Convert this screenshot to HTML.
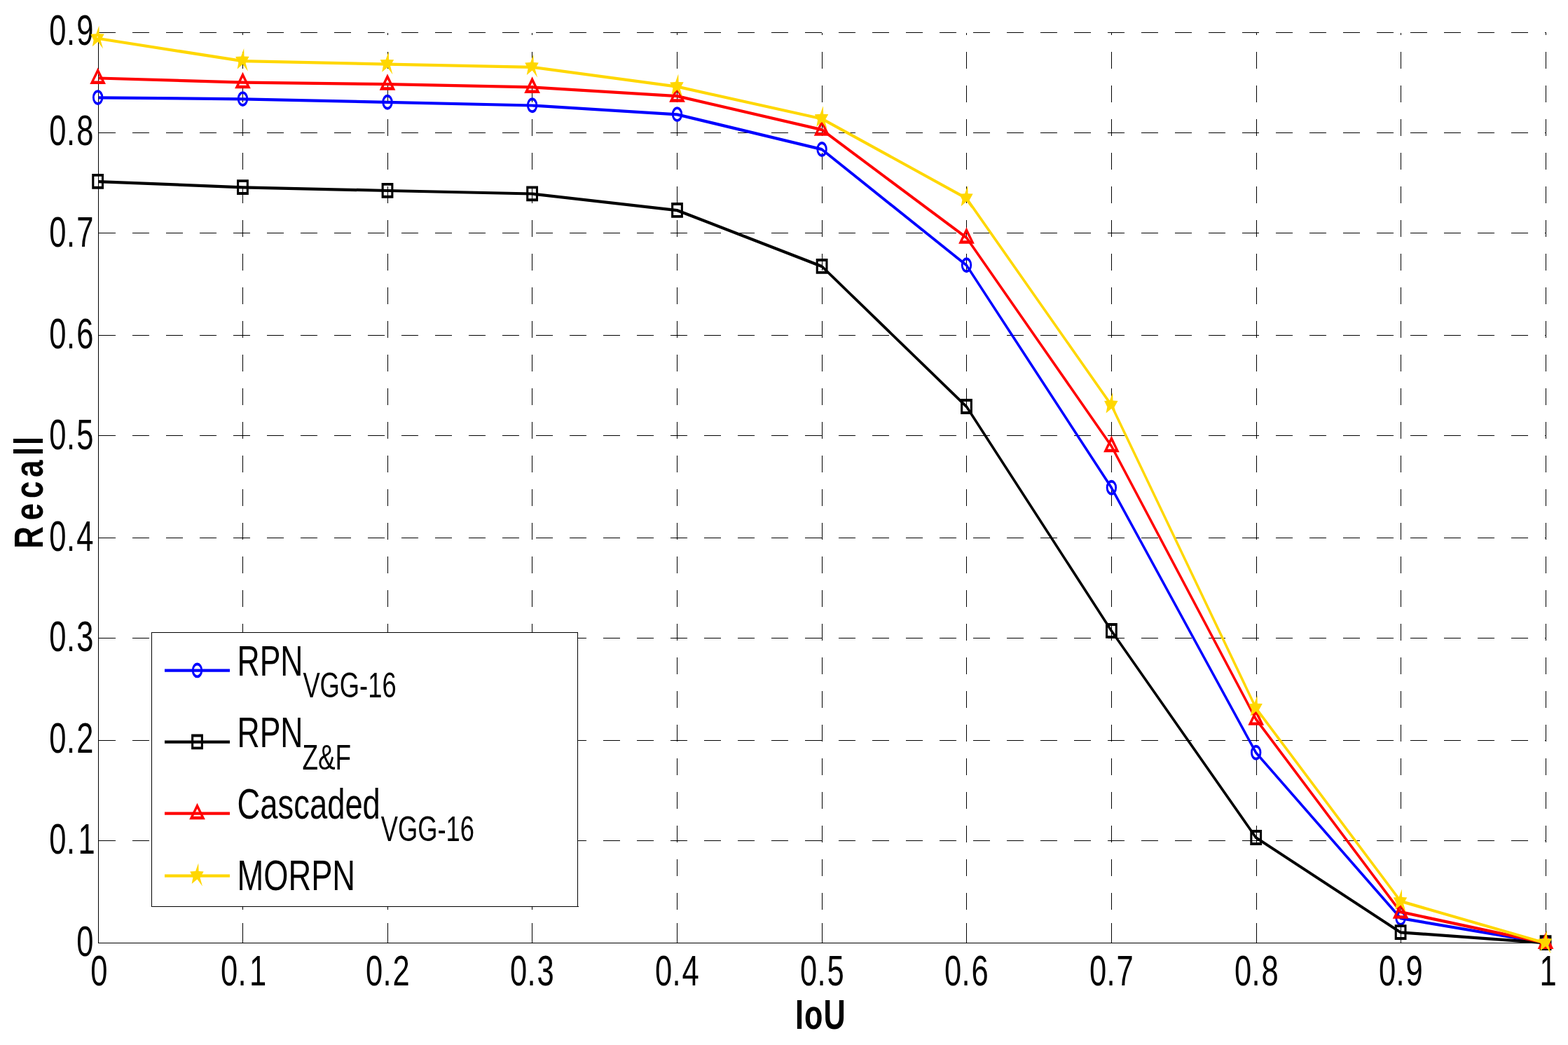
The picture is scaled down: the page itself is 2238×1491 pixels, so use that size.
<!DOCTYPE html>
<html lang="en"><head><meta charset="utf-8"><title>Recall vs IoU</title>
<style>html,body{margin:0;padding:0;background:#fff;overflow:hidden}svg{display:block}text{font-family:"Liberation Sans",Arial,Helvetica,sans-serif;fill:#000}</style></head><body>
<svg width="2238" height="1491" viewBox="0 0 2238 1491">
<rect width="2238" height="1491" fill="#fff"/>
<g stroke="#000" stroke-width="1" fill="none" shape-rendering="crispEdges">
<g stroke-dasharray="24 24">
<path d="M140.5 1199.5H2206.5"/>
<path d="M140.5 1056.5H2206.5"/>
<path d="M140.5 910.5H2206.5"/>
<path d="M140.5 767.5H2206.5"/>
<path d="M140.5 621.5H2206.5"/>
<path d="M140.5 478.5H2206.5"/>
<path d="M140.5 332.5H2206.5"/>
<path d="M140.5 189.5H2206.5"/>
<path d="M140.5 46.5H2206.5"/>
<path d="M346.5 1345.5V46.5"/>
<path d="M553.5 1345.5V46.5"/>
<path d="M759.5 1345.5V46.5"/>
<path d="M966.5 1345.5V46.5"/>
<path d="M1173.5 1345.5V46.5"/>
<path d="M1379.5 1345.5V46.5"/>
<path d="M1586.5 1345.5V46.5"/>
<path d="M1793.5 1345.5V46.5"/>
<path d="M1999.5 1345.5V46.5"/>
<path d="M2206.5 1345.5V46.5"/>
</g>
<path d="M140.5 46.5V1346"/>
<path d="M140 1345.5H2207"/>
<path d="M346.5 1345.5V1317"/>
<path d="M553.5 1345.5V1317"/>
<path d="M759.5 1345.5V1317"/>
<path d="M966.5 1345.5V1317"/>
<path d="M1173.5 1345.5V1317"/>
<path d="M1379.5 1345.5V1317"/>
<path d="M1586.5 1345.5V1317"/>
<path d="M1793.5 1345.5V1317"/>
<path d="M1999.5 1345.5V1317"/>
<path d="M2206.5 1345.5V1317"/>
</g>
<text transform="translate(109.2,1363.6) scale(0.722,1)" font-size="60.3" x="0">0</text>
<text transform="translate(70.15,1218.2) scale(0.722,1)" font-size="60.3" x="0 34.35 57.34">0.1</text>
<text transform="translate(70.15,1074.2) scale(0.722,1)" font-size="60.3" x="0 34.35 54.02">0.2</text>
<text transform="translate(70.15,929.4) scale(0.722,1)" font-size="60.3" x="0 34.35 54.02">0.3</text>
<text transform="translate(70.15,785.8) scale(0.722,1)" font-size="60.3" x="0 34.35 54.02">0.4</text>
<text transform="translate(70.15,640.5) scale(0.722,1)" font-size="60.3" x="0 34.35 54.02">0.5</text>
<text transform="translate(70.15,496.5) scale(0.722,1)" font-size="60.3" x="0 34.35 54.02">0.6</text>
<text transform="translate(70.15,351.5) scale(0.722,1)" font-size="60.3" x="0 34.35 54.02">0.7</text>
<text transform="translate(70.15,207.4) scale(0.722,1)" font-size="60.3" x="0 34.35 54.02">0.8</text>
<text transform="translate(70.15,64) scale(0.722,1)" font-size="60.3" x="0 34.35 54.02">0.9</text>
<text transform="translate(129.3,1405.8) scale(0.722,1)" font-size="60.3" x="0">0</text>
<text transform="translate(315.1,1405.8) scale(0.722,1)" font-size="60.3" x="0 33.93 56.51">0.1</text>
<text transform="translate(522.1,1405.8) scale(0.722,1)" font-size="60.3" x="0 33.93 53.19">0.2</text>
<text transform="translate(728.1,1405.8) scale(0.722,1)" font-size="60.3" x="0 33.93 53.19">0.3</text>
<text transform="translate(935.1,1405.8) scale(0.722,1)" font-size="60.3" x="0 33.93 53.19">0.4</text>
<text transform="translate(1142.1,1405.8) scale(0.722,1)" font-size="60.3" x="0 33.93 53.19">0.5</text>
<text transform="translate(1348.1,1405.8) scale(0.722,1)" font-size="60.3" x="0 33.93 53.19">0.6</text>
<text transform="translate(1555.1,1405.8) scale(0.722,1)" font-size="60.3" x="0 33.93 53.19">0.7</text>
<text transform="translate(1762.1,1405.8) scale(0.722,1)" font-size="60.3" x="0 33.93 53.19">0.8</text>
<text transform="translate(1968.1,1405.8) scale(0.722,1)" font-size="60.3" x="0 33.93 53.19">0.9</text>
<text transform="translate(2197.42,1405.8) scale(0.722,1)" font-size="60.3" x="0">1</text>
<g transform="scale(0.77,1)"><polyline points="182.47,139.3 449.94,141.3 718.18,145.9 986.49,150.5 1255.19,163.3 1523.51,213.2 1791.56,378.5 2060.26,695.9 2328.18,1074 2596.23,1310.2 2865.58,1345.5" fill="none" stroke="#0000ff" stroke-width="4.25" stroke-linejoin="round" stroke-linecap="butt"/></g>
<path fill="#0000ff" fill-rule="evenodd" d="M131.95 139.1a7.7 10.95 0 1 0 15.4 0a7.7 10.95 0 1 0 -15.4 0z M134.8 139.1a4.85 7 0 1 0 9.7 0a4.85 7 0 1 0 -9.7 0z"/>
<path fill="#0000ff" fill-rule="evenodd" d="M338.75 141.1a7.7 10.95 0 1 0 15.4 0a7.7 10.95 0 1 0 -15.4 0z M341.6 141.1a4.85 7 0 1 0 9.7 0a4.85 7 0 1 0 -9.7 0z"/>
<path fill="#0000ff" fill-rule="evenodd" d="M545.3 145.7a7.7 10.95 0 1 0 15.4 0a7.7 10.95 0 1 0 -15.4 0z M548.15 145.7a4.85 7 0 1 0 9.7 0a4.85 7 0 1 0 -9.7 0z"/>
<path fill="#0000ff" fill-rule="evenodd" d="M751.9 150.3a7.7 10.95 0 1 0 15.4 0a7.7 10.95 0 1 0 -15.4 0z M754.75 150.3a4.85 7 0 1 0 9.7 0a4.85 7 0 1 0 -9.7 0z"/>
<path fill="#0000ff" fill-rule="evenodd" d="M958.8 163.1a7.7 10.95 0 1 0 15.4 0a7.7 10.95 0 1 0 -15.4 0z M961.65 163.1a4.85 7 0 1 0 9.7 0a4.85 7 0 1 0 -9.7 0z"/>
<path fill="#0000ff" fill-rule="evenodd" d="M1165.4 213a7.7 10.95 0 1 0 15.4 0a7.7 10.95 0 1 0 -15.4 0z M1168.25 213a4.85 7 0 1 0 9.7 0a4.85 7 0 1 0 -9.7 0z"/>
<path fill="#0000ff" fill-rule="evenodd" d="M1371.8 378.3a7.7 10.95 0 1 0 15.4 0a7.7 10.95 0 1 0 -15.4 0z M1374.65 378.3a4.85 7 0 1 0 9.7 0a4.85 7 0 1 0 -9.7 0z"/>
<path fill="#0000ff" fill-rule="evenodd" d="M1578.7 695.7a7.7 10.95 0 1 0 15.4 0a7.7 10.95 0 1 0 -15.4 0z M1581.55 695.7a4.85 7 0 1 0 9.7 0a4.85 7 0 1 0 -9.7 0z"/>
<path fill="#0000ff" fill-rule="evenodd" d="M1785 1073.8a7.7 10.95 0 1 0 15.4 0a7.7 10.95 0 1 0 -15.4 0z M1787.85 1073.8a4.85 7 0 1 0 9.7 0a4.85 7 0 1 0 -9.7 0z"/>
<path fill="#0000ff" fill-rule="evenodd" d="M1991.4 1310a7.7 10.95 0 1 0 15.4 0a7.7 10.95 0 1 0 -15.4 0z M1994.25 1310a4.85 7 0 1 0 9.7 0a4.85 7 0 1 0 -9.7 0z"/>
<path fill="#0000ff" fill-rule="evenodd" d="M2198.35 1345.3a7.7 10.95 0 1 0 15.4 0a7.7 10.95 0 1 0 -15.4 0z M2201.2 1345.3a4.85 7 0 1 0 9.7 0a4.85 7 0 1 0 -9.7 0z"/>
<g transform="scale(0.77,1)"><polyline points="182.47,259.05 449.94,267.3 718.18,272 986.49,276.5 1255.19,300.1 1523.51,380.1 1791.56,580.2 2060.26,900.1 2328.18,1195.2 2596.23,1330.3 2865.58,1345.3" fill="none" stroke="#000000" stroke-width="4.25" stroke-linejoin="round" stroke-linecap="butt"/></g>
<path fill="#000000" fill-rule="evenodd" d="M131.25 247.95h16.8v21.8h-16.8z M134.35 251.85h10.6v14h-10.6z"/>
<path fill="#000000" fill-rule="evenodd" d="M338.05 256.2h16.8v21.8h-16.8z M341.15 260.1h10.6v14h-10.6z"/>
<path fill="#000000" fill-rule="evenodd" d="M544.6 260.9h16.8v21.8h-16.8z M547.7 264.8h10.6v14h-10.6z"/>
<path fill="#000000" fill-rule="evenodd" d="M751.2 265.4h16.8v21.8h-16.8z M754.3 269.3h10.6v14h-10.6z"/>
<path fill="#000000" fill-rule="evenodd" d="M958.1 289h16.8v21.8h-16.8z M961.2 292.9h10.6v14h-10.6z"/>
<path fill="#000000" fill-rule="evenodd" d="M1164.7 369h16.8v21.8h-16.8z M1167.8 372.9h10.6v14h-10.6z"/>
<path fill="#000000" fill-rule="evenodd" d="M1371.1 569.1h16.8v21.8h-16.8z M1374.2 573h10.6v14h-10.6z"/>
<path fill="#000000" fill-rule="evenodd" d="M1578 889h16.8v21.8h-16.8z M1581.1 892.9h10.6v14h-10.6z"/>
<path fill="#000000" fill-rule="evenodd" d="M1784.3 1184.1h16.8v21.8h-16.8z M1787.4 1188h10.6v14h-10.6z"/>
<path fill="#000000" fill-rule="evenodd" d="M1990.7 1319.2h16.8v21.8h-16.8z M1993.8 1323.1h10.6v14h-10.6z"/>
<path fill="#000000" fill-rule="evenodd" d="M2197.65 1334.2h16.8v21.8h-16.8z M2200.75 1338.1h10.6v14h-10.6z"/>
<g transform="scale(0.77,1)"><polyline points="182.47,111.5 449.94,117.7 718.18,120.2 986.49,124.4 1255.19,137.2 1523.51,185.2 1791.56,339.2 2060.26,636.6 2328.18,1026.3 2596.23,1301.2 2865.58,1345.5" fill="none" stroke="#ff0000" stroke-width="4.25" stroke-linejoin="round" stroke-linecap="butt"/></g>
<path fill="#ff0000" fill-rule="evenodd" d="M139.65 96.45 L151 120.06 L128.3 120.06z M139.65 104.6 L145.15 115.6 L134.15 115.6z"/>
<path fill="#ff0000" fill-rule="evenodd" d="M346.45 102.65 L357.8 126.26 L335.1 126.26z M346.45 110.8 L351.95 121.8 L340.95 121.8z"/>
<path fill="#ff0000" fill-rule="evenodd" d="M553 105.15 L564.35 128.76 L541.65 128.76z M553 113.3 L558.5 124.3 L547.5 124.3z"/>
<path fill="#ff0000" fill-rule="evenodd" d="M759.6 109.35 L770.95 132.96 L748.25 132.96z M759.6 117.5 L765.1 128.5 L754.1 128.5z"/>
<path fill="#ff0000" fill-rule="evenodd" d="M966.5 122.15 L977.85 145.76 L955.15 145.76z M966.5 130.3 L972 141.3 L961 141.3z"/>
<path fill="#ff0000" fill-rule="evenodd" d="M1173.1 170.15 L1184.45 193.76 L1161.75 193.76z M1173.1 178.3 L1178.6 189.3 L1167.6 189.3z"/>
<path fill="#ff0000" fill-rule="evenodd" d="M1379.5 324.15 L1390.85 347.76 L1368.15 347.76z M1379.5 332.3 L1385 343.3 L1374 343.3z"/>
<path fill="#ff0000" fill-rule="evenodd" d="M1586.4 621.55 L1597.75 645.16 L1575.05 645.16z M1586.4 629.7 L1591.9 640.7 L1580.9 640.7z"/>
<path fill="#ff0000" fill-rule="evenodd" d="M1792.7 1011.25 L1804.05 1034.86 L1781.35 1034.86z M1792.7 1019.4 L1798.2 1030.4 L1787.2 1030.4z"/>
<path fill="#ff0000" fill-rule="evenodd" d="M1999.1 1287.05 L2010.45 1310.66 L1987.75 1310.66z M1999.1 1295.2 L2004.6 1306.2 L1993.6 1306.2z"/>
<path fill="#ff0000" fill-rule="evenodd" d="M2206.05 1330.45 L2217.4 1354.06 L2194.7 1354.06z M2206.05 1338.6 L2211.55 1349.6 L2200.55 1349.6z"/>
<g transform="scale(0.77,1)"><polyline points="182.47,55 449.94,87.2 718.18,91.6 986.49,95.8 1255.19,123.7 1523.51,169.5 1791.56,283 2060.26,578.3 2328.18,1010.5 2596.23,1285.9 2865.58,1345.7" fill="none" stroke="#ffd700" stroke-width="4.25" stroke-linejoin="round" stroke-linecap="butt"/></g>
<path fill="#ffd700" fill-rule="evenodd" d="M141.35 36.8 L141.75 48.3 L148.8 48.6 L143.75 57.7 L147.1 69.6 L139.7 59.6 L131.85 66.2 L133.55 57.2 L129.35 48.7 L137.25 48.3z M138.55 52.2l1.6 0l-0.4 1.4l-1.5 0z"/>
<path fill="#ffd700" fill-rule="evenodd" d="M348.15 69 L348.55 80.5 L355.6 80.8 L350.55 89.9 L353.9 101.8 L346.5 91.8 L338.65 98.4 L340.35 89.4 L336.15 80.9 L344.05 80.5z"/>
<path fill="#ffd700" fill-rule="evenodd" d="M554.7 73.4 L555.1 84.9 L562.15 85.2 L557.1 94.3 L560.45 106.2 L553.05 96.2 L545.2 102.8 L546.9 93.8 L542.7 85.3 L550.6 84.9z"/>
<path fill="#ffd700" fill-rule="evenodd" d="M761.3 77.6 L761.7 89.1 L768.75 89.4 L763.7 98.5 L767.05 110.4 L759.65 100.4 L751.8 107 L753.5 98 L749.3 89.5 L757.2 89.1z"/>
<path fill="#ffd700" fill-rule="evenodd" d="M968.2 105.5 L968.6 117 L975.65 117.3 L970.6 126.4 L973.95 138.3 L966.55 128.3 L958.7 134.9 L960.4 125.9 L956.2 117.4 L964.1 117z"/>
<path fill="#ffd700" fill-rule="evenodd" d="M1174.8 151.3 L1175.2 162.8 L1182.25 163.1 L1177.2 172.2 L1180.55 184.1 L1173.15 174.1 L1165.3 180.7 L1167 171.7 L1162.8 163.2 L1170.7 162.8z"/>
<path fill="#ffd700" fill-rule="evenodd" d="M1381.2 264.8 L1381.6 276.3 L1388.65 276.6 L1383.6 285.7 L1386.95 297.6 L1379.55 287.6 L1371.7 294.2 L1373.4 285.2 L1369.2 276.7 L1377.1 276.3z"/>
<path fill="#ffd700" fill-rule="evenodd" d="M1588.1 560.1 L1588.5 571.6 L1595.55 571.9 L1590.5 581 L1593.85 592.9 L1586.45 582.9 L1578.6 589.5 L1580.3 580.5 L1576.1 572 L1584 571.6z"/>
<path fill="#ffd700" fill-rule="evenodd" d="M1794.4 992.3 L1794.8 1003.8 L1801.85 1004.1 L1796.8 1013.2 L1800.15 1025.1 L1792.75 1015.1 L1784.9 1021.7 L1786.6 1012.7 L1782.4 1004.2 L1790.3 1003.8z"/>
<path fill="#ffd700" fill-rule="evenodd" d="M2000.8 1268.6 L2001.2 1280.1 L2008.25 1280.4 L2003.2 1289.5 L2006.55 1301.4 L1999.15 1291.4 L1991.3 1298 L1993 1289 L1988.8 1280.5 L1996.7 1280.1z"/>
<path fill="#ffd700" fill-rule="evenodd" d="M2207.75 1327.5 L2208.15 1339 L2215.2 1339.3 L2210.15 1348.4 L2213.5 1360.3 L2206.1 1350.3 L2198.25 1356.9 L2199.95 1347.9 L2195.75 1339.4 L2203.65 1339z"/>
<rect x="216.5" y="902.5" width="608" height="391" fill="#fff" stroke="#000" stroke-width="1" shape-rendering="crispEdges"/>
<path d="M824 1293.5H826" stroke="#000" stroke-width="1" shape-rendering="crispEdges"/>
<path d="M235 956.5H328" stroke="#0000ff" stroke-width="4.25" fill="none"/>
<path fill="#0000ff" fill-rule="evenodd" d="M273.8 956.4a7.7 10.95 0 1 0 15.4 0a7.7 10.95 0 1 0 -15.4 0z M276.65 956.4a4.85 7 0 1 0 9.7 0a4.85 7 0 1 0 -9.7 0z"/>
<path d="M235 1058.5H328" stroke="#000000" stroke-width="4.25" fill="none"/>
<path fill="#000000" fill-rule="evenodd" d="M273.1 1047.5h16.8v21.8h-16.8z M276.2 1051.4h10.6v14h-10.6z"/>
<path d="M235 1160.6H328" stroke="#ff0000" stroke-width="4.25" fill="none"/>
<path fill="#ff0000" fill-rule="evenodd" d="M281.5 1145.65 L292.85 1169.26 L270.15 1169.26z M281.5 1153.8 L287 1164.8 L276 1164.8z"/>
<path d="M235 1249.7H328" stroke="#ffd700" stroke-width="4.25" fill="none"/>
<path fill="#ffd700" fill-rule="evenodd" d="M283.2 1231.6 L283.6 1243.1 L290.65 1243.4 L285.6 1252.5 L288.95 1264.4 L281.55 1254.4 L273.7 1261 L275.4 1252 L271.2 1243.5 L279.1 1243.1z"/>
<text transform="translate(1137.96,1467.9) scale(0.73,1)" font-size="59.2" font-weight="bold" x="-3.96 13.77 51.43">IoU</text>
<text transform="translate(60.95,779.8) rotate(-90) scale(0.755,1)" font-size="58" font-weight="bold" x="-3.88 49.65 91.24 131.02 171.84 191.84">Recall</text>
<text transform="translate(338.5,964) scale(0.7251,1)" font-size="61.4" text-anchor="start">RPN</text>
<text transform="translate(432.4,995) scale(0.7354,1)" font-size="49.4" text-anchor="start">VGG-16</text>
<text transform="translate(338.5,1066) scale(0.7251,1)" font-size="61.4" text-anchor="start">RPN</text>
<text transform="translate(431.4,1097.9) scale(0.7476,1)" font-size="49.4" text-anchor="start">Z&amp;F</text>
<text transform="translate(338.6,1167.6) scale(0.751,1)" font-size="60.4" text-anchor="start">Cascaded</text>
<text transform="translate(543.7,1199.7) scale(0.7354,1)" font-size="49.4" text-anchor="start">VGG-16</text>
<text transform="translate(338.4,1269.7) scale(0.7383,1)" font-size="61.4" text-anchor="start">MORPN</text>
</svg></body></html>
